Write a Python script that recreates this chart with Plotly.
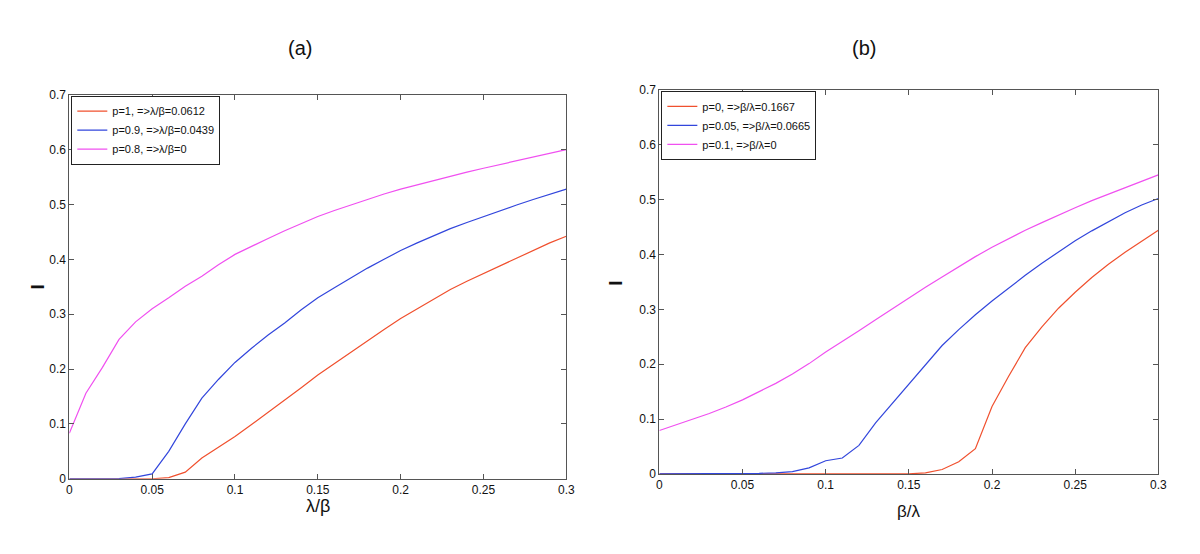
import plotly.graph_objects as go

# ---------------- data ----------------
x_vals = [round(i * 0.01, 2) for i in range(31)]

# Panel (a): I vs lambda/beta
a_p1 = [0, 0, 0, 0, 0, 0, 0.002, 0.012, 0.038, 0.058, 0.077, 0.099, 0.121, 0.144, 0.166,
        0.189, 0.210, 0.231, 0.252, 0.272, 0.292, 0.310, 0.328, 0.345, 0.360, 0.374,
        0.389, 0.403, 0.417, 0.430, 0.442]
a_p09 = [0, 0, 0, 0.0005, 0.003, 0.009, 0.050, 0.100, 0.147, 0.181, 0.212, 0.238, 0.262,
         0.284, 0.308, 0.330, 0.348, 0.366, 0.384, 0.400, 0.416, 0.430, 0.443, 0.456,
         0.467, 0.478, 0.489, 0.499, 0.509, 0.519, 0.528]
a_p08 = [0.083, 0.156, 0.203, 0.254, 0.286, 0.310, 0.330, 0.351, 0.369, 0.390, 0.409,
         0.424, 0.438, 0.452, 0.465, 0.478, 0.489, 0.499, 0.510, 0.519, 0.528, 0.536,
         0.544, 0.552, 0.559, 0.566, 0.573, 0.580, 0.587, 0.594, 0.600]

# Panel (b): I vs beta/lambda
b_p0 = [0, 0, 0, 0, 0, 0, 0, 0, 0, 0, 0, 0, 0, 0, 0, 0, 0.002, 0.008, 0.022, 0.046,
        0.123, 0.178, 0.230, 0.268, 0.302, 0.331, 0.358, 0.382, 0.404, 0.424, 0.444]
b_p005 = [0, 0, 0, 0, 0.0005, 0.001, 0.001, 0.002, 0.004, 0.011, 0.024, 0.029, 0.052,
          0.093, 0.128, 0.165, 0.200, 0.234, 0.263, 0.290, 0.315, 0.339, 0.362, 0.384,
          0.405, 0.425, 0.443, 0.460, 0.476, 0.490, 0.502]
b_p01 = [0.079, 0.089, 0.099, 0.110, 0.122, 0.135, 0.150, 0.165, 0.182, 0.201, 0.222,
         0.241, 0.261, 0.281, 0.301, 0.321, 0.340, 0.359, 0.378, 0.396, 0.413, 0.429,
         0.444, 0.458, 0.472, 0.485, 0.498, 0.510, 0.522, 0.534, 0.545]

names_a = ["p=1, =>λ/β=0.0612", "p=0.9, =>λ/β=0.0439", "p=0.8, =>λ/β=0"]
names_b = ["p=0, =>β/λ=0.1667", "p=0.05, =>β/λ=0.0665", "p=0.1, =>β/λ=0"]
colors = ["#f0502e", "#3246dc", "#f050f0"]

x_ticks = [0, 0.05, 0.1, 0.15, 0.2, 0.25, 0.3]
x_ticklabels = ["0", "0.05", "0.1", "0.15", "0.2", "0.25", "0.3"]
y_ticks = [0, 0.1, 0.2, 0.3, 0.4, 0.5, 0.6, 0.7]
y_ticklabels = ["0", "0.1", "0.2", "0.3", "0.4", "0.5", "0.6", "0.7"]

FONT = "Liberation Sans, Arial, Helvetica, sans-serif"

fig = go.Figure()
for ys, nm, c in zip([a_p1, a_p09, a_p08], names_a, colors):
    fig.add_trace(go.Scatter(x=x_vals, y=ys, mode="lines", name=nm,
                             line=dict(color=c, width=1.2), xaxis="x", yaxis="y",
                             legend="legend"))
for ys, nm, c in zip([b_p0, b_p005, b_p01], names_b, colors):
    fig.add_trace(go.Scatter(x=x_vals, y=ys, mode="lines", name=nm,
                             line=dict(color=c, width=1.2), xaxis="x2", yaxis="y2",
                             legend="legend2"))

axis_common = dict(showgrid=False, zeroline=False, showline=True, linecolor="#555555",
                   linewidth=1, mirror="ticks", ticks="inside", ticklen=5,
                   tickcolor="#555555", tickfont=dict(family=FONT, size=12, color="#111111"))

fig.update_layout(
    width=1200, height=554,
    margin=dict(l=0, r=0, t=0, b=0),
    paper_bgcolor="white", plot_bgcolor="white",
    font=dict(family=FONT, color="#111111"),
    hovermode=False,
    xaxis=dict(domain=[67 / 1200, 569 / 1200], range=[0, 0.3], tickvals=x_ticks,
               ticktext=x_ticklabels, anchor="y", **axis_common),
    yaxis=dict(domain=[(554 - 484) / 554, (554 - 90) / 554], range=[0, 0.7],
               tickvals=y_ticks, ticktext=y_ticklabels, anchor="x", **axis_common),
    xaxis2=dict(domain=[663 / 1200, 1167 / 1200], range=[0, 0.3], tickvals=x_ticks,
                ticktext=x_ticklabels, anchor="y2", **axis_common),
    yaxis2=dict(domain=[(554 - 479) / 554, (554 - 85) / 554], range=[0, 0.7],
                tickvals=y_ticks, ticktext=y_ticklabels, anchor="x2", **axis_common),
    legend=dict(x=69 / 1200, y=(554 - 91) / 554, xanchor="left", yanchor="top",
                bgcolor="white", bordercolor="#222222", borderwidth=1,
                font=dict(family=FONT, size=11, color="#111111"), itemwidth=30,
                tracegroupgap=0),
    legend2=dict(x=665 / 1200, y=(554 - 86) / 554, xanchor="left", yanchor="top",
                 bgcolor="white", bordercolor="#222222", borderwidth=1,
                 font=dict(family=FONT, size=11, color="#111111"), itemwidth=30,
                 tracegroupgap=0),
    showlegend=True,
)

annotations = [
    dict(text="(a)", x=300 / 1200, y=1 - 42 / 554, font=dict(size=20)),
    dict(text="(b)", x=870 / 1200, y=1 - 42 / 554, font=dict(size=20)),
    dict(text="λ/β", x=318 / 1200, y=1 - 512 / 554, font=dict(size=18)),
    dict(text="β/λ", x=915 / 1200, y=1 - 518 / 554, font=dict(size=17)),
    dict(text="<b>I</b>", x=35 / 1200, y=1 - 287 / 554, textangle=-90, font=dict(size=19)),
    dict(text="<b>I</b>", x=619 / 1200, y=1 - 283 / 554, textangle=-90, font=dict(size=19)),
]
for a in annotations:
    a.update(xref="paper", yref="paper", showarrow=False, xanchor="center", yanchor="middle")
    a["font"].update(family=FONT, color="#111111")
fig.update_layout(annotations=annotations)

fig.write_html(
    "out.html",
    config={"displayModeBar": False},
    post_script="document.body.style.margin='0';document.documentElement.style.overflow='hidden';",
)
